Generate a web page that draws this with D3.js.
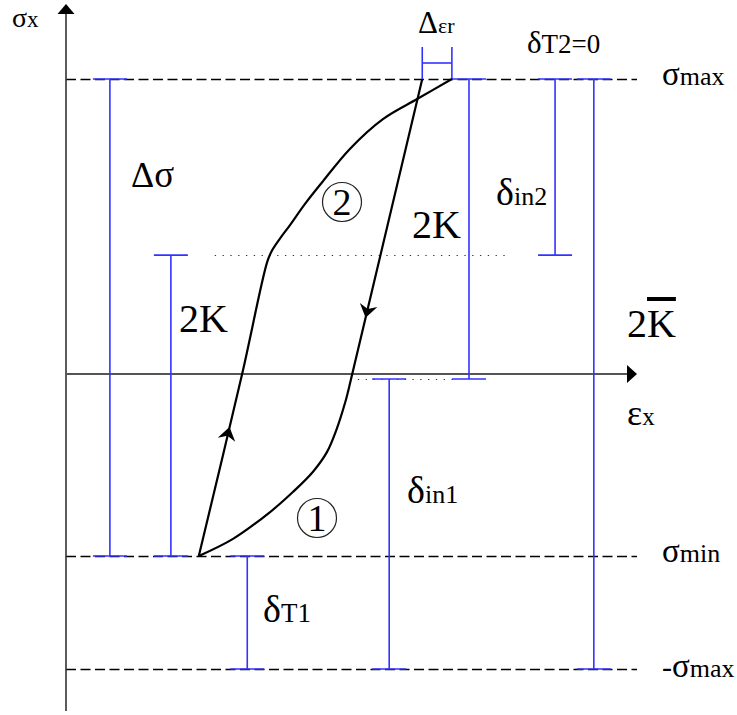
<!DOCTYPE html>
<html><head><meta charset="utf-8">
<script src="https://cdn.jsdelivr.net/npm/d3@7"></script>
</head><body style="margin:0;padding:0;background:#fff;">
<svg id="c" width="737" height="715" style="display:block;background:#fff;"></svg>
<script>
// ---------------- data (strain ε, stress σ in units of σmax) ----------------
const levelNames  = ["σmax", "σmin", "-σmax"];
const levelValues = [1.0, -0.617, -1.0];

const dottedLevels = [0.403, -0.017];
const dottedFrom   = [0.261, 0.512];
const dottedTo     = [0.779, 0.682];

const barNames = ["Δσ", "2K", "δT1", "δin1", "2K", "δin2", "2K̄"];
const barEps   = [0.077, 0.184, 0.318, 0.567, 0.707, 0.858, 0.926];
const barFrom  = [1.0, 0.403, -0.617, -0.017, 1.0, 1.0, 1.0];
const barTo    = [-0.617, -0.617, -1.0, -1.0, -0.017, 0.403, -1.0];

const deltaErEps = [0.625, 0.677];

// loading branch ② (from σmin up to σmax)
const branchLoad = [[0.233,-0.617],[0.309,0.0],[0.353,0.380],[0.361,0.417],[0.375,0.458],
  [0.393,0.505],[0.419,0.576],[0.451,0.654],[0.498,0.763],[0.556,0.864],[0.616,0.932],[0.677,1.0]];
// unloading branch ① (from σmax down to σmin)
const branchUnload = [[0.625,1.0],[0.498,-0.034],[0.495,-0.058],[0.490,-0.095],[0.475,-0.186],
  [0.458,-0.264],[0.433,-0.332],[0.398,-0.400],[0.358,-0.468],[0.293,-0.559],[0.233,-0.617]];

const arrowSigma = [0.214, -0.203]; // on unloading / loading straight parts
const epsAxisMax = 1.0, sigAxisTop = 1.254, sigAxisBottom = -1.142;

// ---------------- drawing ----------------
const svg = d3.select("#c");
const FONT = '"Liberation Serif"';
const x = d3.scaleLinear().domain([0, 1]).range([66, 636]);
const y = d3.scaleLinear().domain([-1, 1]).range([669, 79]);
const BLUE = "#3333ff";
const CAP = 17;

// dashed stress levels
svg.selectAll("line.level").data(levelValues).join("line")
  .attr("x1", x(0)).attr("x2", x(epsAxisMax) + 1)
  .attr("y1", d => Math.round(y(d)) + 0.5).attr("y2", d => Math.round(y(d)) + 0.5)
  .attr("stroke", "#000").attr("stroke-width", 1.3).attr("stroke-dasharray", "10,4.5");

// dotted levels
svg.selectAll("line.dot").data(dottedLevels).join("line")
  .attr("x1", (d,i) => x(dottedFrom[i])).attr("x2", (d,i) => x(dottedTo[i]))
  .attr("y1", d => Math.round(y(d)) + 0.5).attr("y2", d => Math.round(y(d)) + 0.5)
  .attr("stroke", "#333").attr("stroke-width", 1.2).attr("stroke-dasharray", "1.3,6.5");

// axes
svg.append("line").attr("x1", x(0)).attr("x2", x(0))
  .attr("y1", y(sigAxisTop) + 8).attr("y2", y(sigAxisBottom))
  .attr("stroke", "#333").attr("stroke-width", 1.6);
svg.append("path")
  .attr("d", `M${x(0)},${y(sigAxisTop)} L${x(0)-8.5},${y(sigAxisTop)+10} L${x(0)+8.5},${y(sigAxisTop)+10} Z`)
  .attr("fill", "#000");
svg.append("line").attr("x1", x(0)).attr("x2", x(epsAxisMax) - 9)
  .attr("y1", y(0)).attr("y2", y(0))
  .attr("stroke", "#555").attr("stroke-width", 2);
svg.append("path")
  .attr("d", `M${x(epsAxisMax)+1},${y(0)} L${x(epsAxisMax)-9},${y(0)-9} L${x(epsAxisMax)-9},${y(0)+9} Z`)
  .attr("fill", "#000");

// blue dimension bars
const bars = barEps.map((e,i) => ({e, a: barFrom[i], b: barTo[i]}));
const gb = svg.append("g").attr("stroke", BLUE).attr("stroke-width", 1.6);
bars.forEach(d => {
  gb.append("line").attr("x1", x(d.e)).attr("x2", x(d.e)).attr("y1", y(d.a)).attr("y2", y(d.b));
  [d.a, d.b].forEach(v => gb.append("line")
    .attr("x1", x(d.e) - CAP).attr("x2", x(d.e) + CAP).attr("y1", y(v)).attr("y2", y(v)));
});
// Δεr bracket
deltaErEps.forEach(e => gb.append("line").attr("x1", x(e)).attr("x2", x(e))
  .attr("y1", y(1) - 32).attr("y2", y(1)));
gb.append("line").attr("x1", x(deltaErEps[0])).attr("x2", x(deltaErEps[1]))
  .attr("y1", y(1) - 16).attr("y2", y(1) - 16);

// hysteresis loop
const line = d3.line().x(d => x(d[0])).y(d => y(d[1])).curve(d3.curveCatmullRom.alpha(0.5));
[branchLoad, branchUnload].forEach(b => svg.append("path").attr("d", line(b))
  .attr("fill", "none").attr("stroke", "#000").attr("stroke-width", 2.2).attr("stroke-linejoin", "round"));

// arrowheads on the straight parts
function arrowAt(p0, p1, s) {
  const t = (s - p0[1]) / (p1[1] - p0[1]);
  const px = x(p0[0] + t * (p1[0] - p0[0])), py = y(s);
  const dx = x(p1[0]) - x(p0[0]), dy = y(p1[1]) - y(p0[1]);
  const L = Math.hypot(dx, dy), ux = dx / L, uy = dy / L, nx = -uy, ny = ux;
  const tip = [px + ux * 7, py + uy * 7], back = [px - ux * 6, py - uy * 6];
  svg.append("path").attr("d",
    `M${tip[0]},${tip[1]} L${back[0]+nx*9},${back[1]+ny*9} L${px-ux*2},${py-uy*2} L${back[0]-nx*9},${back[1]-ny*9} Z`)
    .attr("fill", "#000");
}
arrowAt(branchUnload[0], branchUnload[1], arrowSigma[0]);
arrowAt(branchLoad[0], branchLoad[1], arrowSigma[1]);

// circled branch numbers
function circled(cx, cy, r, t, fs) {
  svg.append("circle").attr("cx", cx).attr("cy", cy).attr("r", r)
    .attr("fill", "none").attr("stroke", "#222").attr("stroke-width", 1.2);
  svg.append("text").attr("x", cx).attr("y", cy + fs * 0.34).attr("text-anchor", "middle")
    .style("font-family", FONT).style("font-size", fs + "px").style("fill", "#000").text(t);
}
circled(342, 202, 19.5, "2", 38);
circled(317, 518, 19.5, "1", 38);

// labels: parts = [text, size, overline]
function label(px, py, parts) {
  const t = svg.append("text").attr("x", px).attr("y", py)
    .style("font-family", FONT).style("fill", "#000");
  parts.forEach(p => {
    const s = t.append("tspan").style("font-family", FONT).style("font-size", p[1] + "px").text(p[0]);
    if (p[2]) s.style("text-decoration", "overline");
  });
  return t;
}
label(12, 27, [["σ", 28], ["x", 23]]);
label(627, 425, [["ε", 36], ["x", 25]]);
label(x(1) + 26, y(levelValues[0]) + 6, [["σ", 33], ["max", 26]]);
label(x(1) + 26, y(levelValues[1]) + 6, [["σ", 33], ["min", 26]]);
label(x(1) + 26, y(levelValues[2]) + 8, [["-", 30], ["σ", 33], ["max", 26]]);
label(131, 187, [["Δ", 36], ["σ", 37]]);
label(179, 332, [["2K", 40]]);
label(412, 238, [["2K", 40]]);
label(627, 337, [["2", 40], ["K", 40, true]]);
label(496, 205, [["δ", 38], ["in2", 26]]);
label(407, 503, [["δ", 38], ["in1", 26]]);
label(263, 622, [["δ", 38], ["T1", 27]]);
label(527, 53, [["δ", 31], ["T2=0", 27]]);
label(418, 33, [["Δ", 31], ["εr", 22]]);
</script>
</body></html>
